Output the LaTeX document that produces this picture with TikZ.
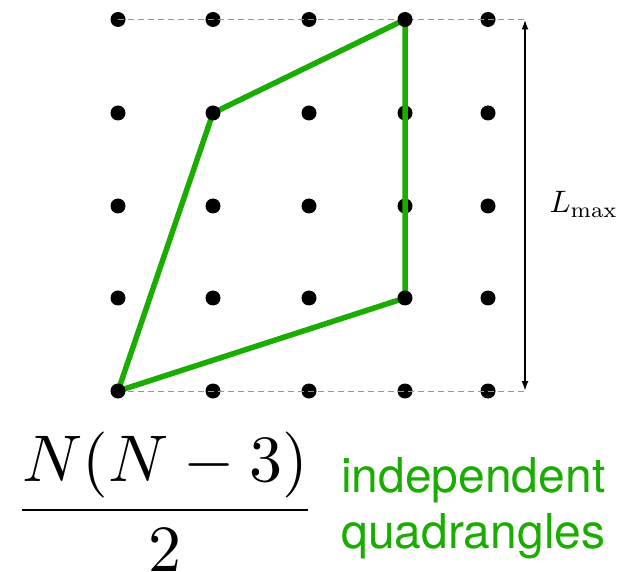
\documentclass[tikz,border=0pt]{standalone}
\usepackage{fontspec}
\setsansfont{TeX Gyre Heros}
\usetikzlibrary{arrows.meta}
\definecolor{qgreen}{RGB}{26,172,0}
\definecolor{dashgray}{RGB}{150,150,150}
\pgfdeclarelayer{bg}
\pgfdeclarelayer{mid}
\pgfsetlayers{bg,mid,main}
\begin{document}
\begin{tikzpicture}[x=1pt,y=-1pt,
  dot/.style={circle,fill=black,inner sep=0pt,minimum size=15pt},
  guide/.style={draw=dashgray,line width=0.8pt,dash pattern=on 6pt off 4pt},
  quad/.style={draw=qgreen,line width=5.5pt,line join=round},
  measure/.style={line width=1.8pt,{Latex[length=10pt,width=7pt]}-{Latex[length=10pt,width=7pt]}},
  label/.style={inner sep=0pt}
]
\useasboundingbox (0,0) rectangle (635,572);
\coordinate (tr) at (525,19.5);
\coordinate (br) at (525,391);
\foreach \x [count=\i] in {118,213,309,405,488}{
  \foreach \y [count=\j] in {19.5,113,206,298,391}{
    \pgfmathtruncatemacro{\isv}{(\i==1&&\j==5)||(\i==2&&\j==2)||(\i==4&&\j==1)||(\i==4&&\j==4)}
    \ifnum\isv=1
      \node[dot] (d\i\j) at (\x,\y) {};
    \else
      \begin{pgfonlayer}{bg}
      \node[dot] (d\i\j) at (\x,\y) {};
      \end{pgfonlayer}
    \fi
  }}
\begin{pgfonlayer}{bg}
\draw[guide] (d11.center) -- (tr);
\draw[guide] (d15.center) -- (br);
\end{pgfonlayer}
\begin{pgfonlayer}{mid}
\draw[quad] (d15.center) -- (d22.center) -- (d41.center) -- (d44.center) -- cycle;
\end{pgfonlayer}
\draw[measure] (tr) -- (br);
\node[label,anchor=base west,scale=3.1] (lmax) at (549,213) {$L_{\max}$};
\node[label,anchor=base,scale=6.6] (frac) at (165,526.5) {$\displaystyle\frac{N(N-3)}{2}$};
\node[label,anchor=base west,align=left,text=qgreen,font=\sffamily\fontsize{48}{56}\selectfont] (txt) at (341,548) {independent\\quadrangles};
\end{tikzpicture}
\end{document}
